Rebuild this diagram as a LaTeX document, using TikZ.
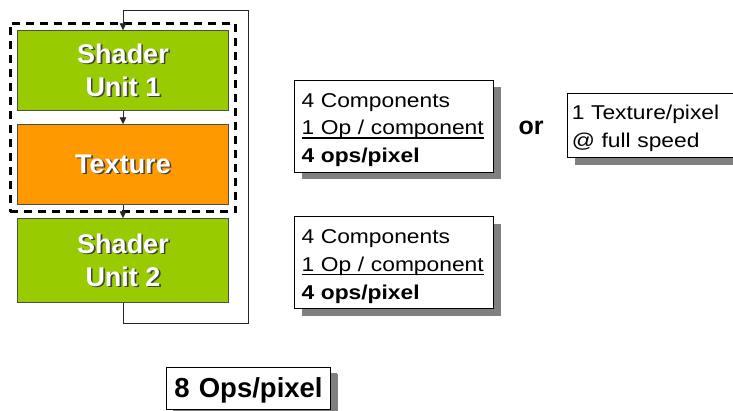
\documentclass[tikz,border=0pt]{standalone}
\usepackage{fontspec}
\setmainfont{Liberation Sans}
\newfontfamily\boxfont[FakeStretch=1.14]{Liberation Sans}
\usetikzlibrary{shadows,fit,arrows.meta}
\definecolor{sgreen}{HTML}{99CC00}
\definecolor{sorange}{HTML}{FF9900}
\definecolor{shgray}{HTML}{808080}
\newcommand\shtxt[1]{\leavevmode\rlap{\kern1.6pt\raisebox{-1.6pt}{\textcolor{black!75}{#1}}}#1}
\newcommand\myul[1]{\leavevmode\setbox0\hbox{#1}\rlap{\rule[-3.6pt]{\wd0}{1.3pt}}\box0}
\newcommand\topstrut{\rule{0pt}{26.7pt}}
\newcommand\botstrut[1]{\rule[-#1]{0pt}{#1}}
\tikzset{
  unit/.style={draw=black!70, line width=0.8pt, minimum width=211.4pt, minimum height=80pt,
    text=white, font=\bfseries\fontsize{27}{33}\selectfont, align=center, inner sep=0pt},
  infobox/.style={draw=black, line width=1pt, fill=white, anchor=north west, align=left,
    font=\boxfont\fontsize{20}{27.8}\selectfont, inner ysep=0pt, inner xsep=7pt,
    drop shadow={shadow xshift=7pt, shadow yshift=-7pt, fill=shgray, opacity=1}},
  arr/.style={draw=black!85, line width=0.9pt, -{Triangle[length=7pt,width=6.5pt]}},
  dashbox/.style={draw=black, line width=3pt, dash pattern=on 8pt off 6pt, inner sep=6.8pt}
}
\begin{document}
\begin{tikzpicture}[x=1pt,y=-1pt]
\useasboundingbox (0,0) rectangle (733,411);
% pipeline
\node[unit, fill=sgreen, minimum height=80pt] (su1) at (123,70.7) {\shtxt{Shader}\\\shtxt{Unit 1}};
\node[unit, fill=sorange, minimum height=80pt] (tex) at (123,164.7) {\shtxt{Texture}};
\node[unit, fill=sgreen, minimum height=84pt] (su2) at (123,260.7) {\shtxt{Shader}\\\shtxt{Unit 2}};
\node[dashbox, fit=(su1)(tex)] (grp) {};
\coordinate (fbR) at (248.7,323);
\coordinate (fbT) at (248.7,10);
\draw[arr] (su1.south) -- (tex.north);
\draw[arr] (tex.south) -- (su2.north);
\draw[arr] (su2.south) |- (fbR) -- (fbT) -| (su1.north);
% info boxes
\node[infobox, minimum width=199.3pt, text width=185.3pt] (b1) at (294,80)
  {\topstrut4 Components\\\myul{1 Op / component}\\\textbf{4 ops/pixel}\botstrut{9.4pt}};
\node[font=\bfseries\fontsize{25}{28}\selectfont, anchor=base] (or) at (531,135) {or};
\node[infobox, minimum width=178pt, text width=170pt, inner xsep=4pt] (b2) at (567.3,92.7)
  {\topstrut1 Texture/pixel\\@ full speed\botstrut{10.3pt}};
\node[infobox, minimum width=199.3pt, text width=185.3pt] (b3) at (294,216.3)
  {\topstrut4 Components\\\myul{1 Op / component}\\\textbf{4 ops/pixel}\botstrut{9.7pt}};
\node[infobox, minimum width=164pt, text width=150pt, align=center,
  font=\bfseries\fontsize{27.5}{30}\selectfont, drop shadow={shadow xshift=6pt, shadow yshift=-6pt, fill=shgray, opacity=1}] (b4) at (166,366.7)
  {\rule{0pt}{30pt}8 Ops/pixel\rule[-12.3pt]{0pt}{12.3pt}};
\end{tikzpicture}
\end{document}
